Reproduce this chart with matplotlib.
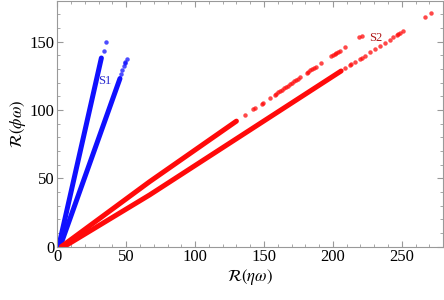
import matplotlib
matplotlib.use("Agg")
import matplotlib.pyplot as plt
from matplotlib.ticker import MultipleLocator

plt.rcParams['font.family'] = ['Liberation Serif', 'DejaVu Serif']
plt.rcParams['mathtext.fontset'] = 'stix'

# S1 (blue) - two branches, dense part + sparse tail
s1a_dense_x = [1, 32]
s1a_dense_y = [0, 138]
s1a_x = [33.6, 35.7]
s1a_y = [143, 150]

s1b_dense_x = [2, 45.5]
s1b_dense_y = [0, 123]
s1b_x = [46.3, 47.1, 48.6, 48.8, 49.3, 50.7]
s1b_y = [126, 129, 132.5, 134, 135, 137]

# S2 (red) - two branches
s2a_dense_x = [3, 67, 130]
s2a_dense_y = [0, 47.5, 91.8]
s2a_x = [136.0, 142.2, 143.2, 148.3, 149.3, 154.3, 157.8, 159.0, 160.2, 161.5, 163,
         164.5, 166, 167.5, 169, 170.5, 172, 173.5, 175, 176.3, 181, 182.3, 183.6,
         185, 186.4, 187.8, 191.6, 198.8, 200, 201.2, 202.4, 203.6, 204.9, 208.5,
         219.3, 220.8]
s2a_y = [96.3, 100.5, 101.2, 104.7, 105.4, 108.8, 111.2, 112.0, 112.9, 113.7, 114.8,
         115.8, 116.8, 117.8, 118.9, 119.9, 120.9, 122.0, 123.0, 123.9, 127.1, 128.0, 128.9,
         129.8, 130.8, 131.7, 134.3, 139.3, 140.1, 140.9, 141.7, 142.5, 143.4, 145.9,
         153.3, 154.3]

s2b_dense_x = [5, 67, 206]
s2b_dense_y = [0, 37.8, 128.5]
s2b_x = [208.7, 212.3, 213.5, 216, 219.6, 220.8, 223.2, 226.8, 230.9, 234, 237.7, 241.3,
         243.7, 246.2, 247.4, 248.6, 251, 267.2, 271.5]
s2b_y = [130.5, 132.8, 133.6, 135.2, 137.5, 138.3, 139.8, 142.1, 144.6, 146.8, 149.3, 151.4,
         153.2, 155.0, 155.8, 156.6, 157.8, 168.1, 170.8]

blue = '#1010ff'
red = '#ff0a0a'

fig = plt.figure(figsize=(4.44, 3.0), dpi=100)
ax = fig.add_axes([0.129, 0.178, 0.869, 0.82])

for dx, dy, px, py in [(s1a_dense_x, s1a_dense_y, s1a_x, s1a_y),
                       (s1b_dense_x, s1b_dense_y, s1b_x, s1b_y)]:
    ax.plot(dx, dy, color=blue, lw=3.6, solid_capstyle='round')
    ax.plot(px, py, 'o', color=blue, ms=3.2, mec='none', alpha=0.75)

for dx, dy, px, py in [(s2a_dense_x, s2a_dense_y, s2a_x, s2a_y),
                       (s2b_dense_x, s2b_dense_y, s2b_x, s2b_y)]:
    ax.plot(dx, dy, color=red, lw=3.6, solid_capstyle='round')
    ax.plot(px, py, 'o', color=red, ms=3.2, mec='none', alpha=0.75)

ax.text(34.8, 121, 'S1', color='#2a2ad0', fontsize=9, ha='center', va='center')
ax.text(231, 153, 'S2', color='#b01818', fontsize=9, ha='center', va='center')

ax.set_xlim(0, 280)
ax.set_ylim(0, 180)
ax.xaxis.set_major_locator(MultipleLocator(50))
ax.xaxis.set_minor_locator(MultipleLocator(10))
ax.yaxis.set_major_locator(MultipleLocator(50))
ax.yaxis.set_minor_locator(MultipleLocator(10))
ax.tick_params(which='both', direction='in', top=True, right=True, color='#999999',
               labelsize=12, labelcolor='black', pad=2)
ax.tick_params(which='major', length=4, width=0.8)
ax.tick_params(which='minor', length=2, width=0.6)
for s in ax.spines.values():
    s.set_color('#999999')
    s.set_linewidth(0.8)

ax.set_xlabel(r'$\mathcal{R}(\eta\omega)$', fontsize=12, labelpad=1)
ax.set_ylabel(r'$\mathcal{R}(\phi\omega)$', fontsize=12, labelpad=1)

fig.savefig('out.png', dpi=100)
